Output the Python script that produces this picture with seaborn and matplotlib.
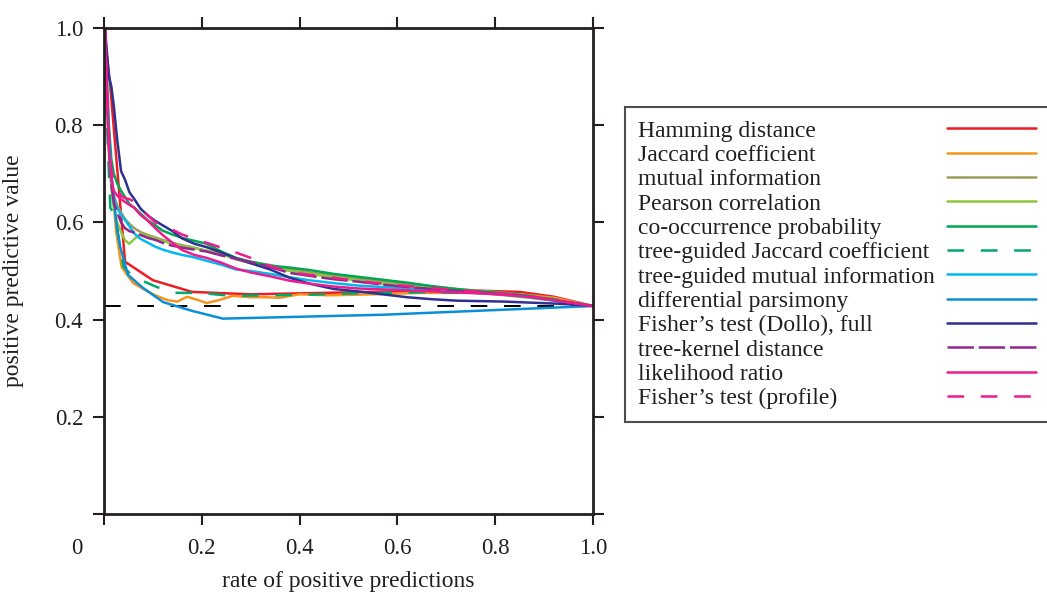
import matplotlib
matplotlib.use("Agg")
import matplotlib.pyplot as plt
import seaborn as sns

# shared x grid for the noisy curves (rate of positive predictions)
x_grid = [0.002, 0.006, 0.01, 0.015, 0.02, 0.027, 0.035, 0.043, 0.052, 0.062,
          0.075, 0.09, 0.105, 0.12, 0.14, 0.16, 0.185, 0.21, 0.24, 0.27,
          0.3, 0.34, 0.38, 0.42, 0.47, 0.52, 0.57, 0.62, 0.67, 0.72,
          0.77, 0.82, 0.87, 0.92, 0.96, 1.0]

mutual_info = [1.0, 0.87, 0.76, 0.69, 0.655, 0.635, 0.62, 0.607, 0.597, 0.588,
               0.580, 0.574, 0.569, 0.564, 0.558, 0.553, 0.548, 0.541, 0.534, 0.526,
               0.519, 0.512, 0.504, 0.497, 0.490, 0.484, 0.478, 0.473, 0.468, 0.463,
               0.459, 0.455, 0.449, 0.441, 0.434, 0.428]
pearson = [1.0, 0.86, 0.74, 0.67, 0.63, 0.60, 0.58, 0.563, 0.556, 0.566,
           0.576, 0.572, 0.566, 0.562, 0.556, 0.551, 0.547, 0.542, 0.535, 0.524,
           0.516, 0.508, 0.500, 0.494, 0.487, 0.480, 0.474, 0.469, 0.464, 0.459,
           0.455, 0.450, 0.445, 0.439, 0.433, 0.428]
cooccurrence = [1.0, 0.90, 0.80, 0.73, 0.70, 0.68, 0.665, 0.652, 0.638, 0.630,
                0.618, 0.604, 0.594, 0.583, 0.575, 0.568, 0.562, 0.556, 0.540, 0.527,
                0.519, 0.511, 0.507, 0.502, 0.494, 0.488, 0.482, 0.476, 0.469, 0.463,
                0.458, 0.454, 0.449, 0.440, 0.434, 0.428]
tree_mi = [1.0, 0.88, 0.77, 0.69, 0.65, 0.63, 0.615, 0.605, 0.592, 0.577,
           0.566, 0.558, 0.550, 0.544, 0.538, 0.533, 0.528, 0.521, 0.513, 0.503,
           0.500, 0.494, 0.487, 0.481, 0.475, 0.470, 0.467, 0.464, 0.461, 0.458,
           0.455, 0.451, 0.446, 0.439, 0.433, 0.428]
fisher_dollo = [1.0, 0.95, 0.90, 0.88, 0.84, 0.77, 0.705, 0.688, 0.662, 0.648,
                0.628, 0.614, 0.603, 0.594, 0.582, 0.567, 0.556, 0.549, 0.538, 0.526,
                0.516, 0.503, 0.486, 0.474, 0.463, 0.458, 0.452, 0.446, 0.442, 0.439,
                0.438, 0.437, 0.435, 0.433, 0.431, 0.428]
tree_kernel = [1.0, 0.87, 0.76, 0.68, 0.64, 0.62, 0.60, 0.588, 0.582, 0.579,
               0.574, 0.568, 0.564, 0.558, 0.552, 0.548, 0.544, 0.540, 0.532, 0.525,
               0.518, 0.508, 0.496, 0.490, 0.483, 0.478, 0.472, 0.467, 0.463, 0.459,
               0.456, 0.452, 0.447, 0.440, 0.434, 0.428]
likelihood = [1.0, 0.86, 0.75, 0.69, 0.665, 0.655, 0.648, 0.642, 0.636, 0.630,
              0.615, 0.603, 0.588, 0.574, 0.558, 0.543, 0.533, 0.527, 0.517, 0.505,
              0.497, 0.489, 0.480, 0.474, 0.468, 0.464, 0.462, 0.460, 0.458, 0.456,
              0.454, 0.451, 0.447, 0.440, 0.434, 0.428]
fisher_profile = [1.0, 0.88, 0.78, 0.71, 0.68, 0.665, 0.655, 0.650, 0.648, 0.642,
                  0.628, 0.614, 0.600, 0.592, 0.585, 0.575, 0.566, 0.558, 0.548, 0.538,
                  0.527, 0.510, 0.498, 0.492, 0.486, 0.479, 0.474, 0.469, 0.465, 0.461,
                  0.457, 0.453, 0.448, 0.440, 0.434, 0.428]

# coarse (step-like) curves with their own x values
hamming_x = [0.0, 0.005, 0.012, 0.043, 0.1, 0.18, 0.3, 0.45, 0.6, 0.75, 0.85, 0.92, 1.0]
hamming_y = [1.0, 0.95, 0.89, 0.519, 0.481, 0.457, 0.452, 0.455, 0.458, 0.460, 0.457, 0.447, 0.428]

jaccard_x = [0.0, 0.006, 0.015, 0.025, 0.036, 0.06, 0.084, 0.105, 0.13, 0.15, 0.17, 0.19,
             0.21, 0.235, 0.264, 0.3, 0.33, 0.36, 0.4, 0.46, 0.55, 0.65, 0.75, 0.85, 0.92, 1.0]
jaccard_y = [1.0, 0.85, 0.70, 0.58, 0.508, 0.475, 0.461, 0.45, 0.44, 0.437, 0.447, 0.441,
             0.434, 0.44, 0.449, 0.446, 0.446, 0.445, 0.452, 0.45, 0.452, 0.455, 0.455, 0.452, 0.445, 0.428]

tree_jaccard_x = [0.0, 0.004, 0.008, 0.013, 0.022, 0.04, 0.06, 0.108, 0.149, 0.196, 0.258,
                  0.35, 0.45, 0.55, 0.65, 0.75, 0.85, 0.92, 1.0]
tree_jaccard_y = [1.0, 0.88, 0.75, 0.63, 0.615, 0.508, 0.488, 0.467, 0.455, 0.455, 0.449,
                  0.45, 0.452, 0.455, 0.456, 0.455, 0.45, 0.442, 0.428]

parsimony_x = [0.0, 0.006, 0.015, 0.025, 0.033, 0.049, 0.08, 0.121, 0.18, 0.243, 0.57, 1.0]
parsimony_y = [1.0, 0.85, 0.70, 0.60, 0.55, 0.492, 0.465, 0.436, 0.418, 0.402, 0.41, 0.428]

baseline = 0.428

labels = ["Hamming distance", "Jaccard coefficient", "mutual information",
          "Pearson correlation", "co-occurrence probability",
          "tree-guided Jaccard coefficient", "tree-guided mutual information",
          "differential parsimony", "Fisher\u2019s test (Dollo), full",
          "tree-kernel distance", "likelihood ratio", "Fisher\u2019s test (profile)"]

ticks = [0, 0.2, 0.4, 0.6, 0.8, 1.0]
tick_labels = ["", "0.2", "0.4", "0.6", "0.8", "1.0"]

sns.set_style("ticks")
plt.rcParams["font.family"] = ["Liberation Serif", "DejaVu Serif"]
plt.rcParams["lines.scale_dashes"] = False

ink = "#231f20"
short_dash = (0, (12, 12))
long_dash = (0, (19, 3.5))

series = [
    (hamming_x, hamming_y, "#ed1c24", "-"),
    (jaccard_x, jaccard_y, "#f7941d", "-"),
    (x_grid, mutual_info, "#9d9d5b", "-"),
    (x_grid, pearson, "#8dc63f", "-"),
    (x_grid, cooccurrence, "#00a651", "-"),
    (tree_jaccard_x, tree_jaccard_y, "#00a86b", short_dash),
    (x_grid, tree_mi, "#00b9f1", "-"),
    (parsimony_x, parsimony_y, "#0a8fd6", "-"),
    (x_grid, fisher_dollo, "#2e3192", "-"),
    (x_grid, tree_kernel, "#92278f", long_dash),
    (x_grid, likelihood, "#ec1c8c", "-"),
    (x_grid, fisher_profile, "#ec1c8c", short_dash),
]

fig = plt.figure(figsize=(10.47, 5.99), dpi=100)
ax = fig.add_axes([104 / 1047, 1 - 514 / 599, 489 / 1047, 486 / 599])

ax.axhline(baseline, color="black", linewidth=1.4, linestyle=short_dash, zorder=1)

handles = []
for (xs, ys, color, ls), lab in zip(series, labels):
    sns.lineplot(x=xs, y=ys, ax=ax, color=color, linestyle=ls, linewidth=1.8,
                 sort=False, estimator=None, label=lab)
    handles.append(ax.lines[-1])

ax.set_xlim(0, 1)
ax.set_ylim(0, 1)
ax.set_xticks(ticks)
ax.set_xticklabels(tick_labels)
ax.set_yticks(ticks)
ax.set_yticklabels(tick_labels)
ax.tick_params(direction="out", top=True, right=True, labeltop=False, labelright=False,
               length=8, width=1.5, color=ink, labelsize=16.5, pad=7, labelcolor=ink)
ax.tick_params(axis="x", pad=9)
for sp in ax.spines.values():
    sp.set_linewidth(2)
    sp.set_color(ink)

ax.annotate("0", xy=(0, 0), xycoords="axes fraction", xytext=(-19.5, -25),
            textcoords="offset points", ha="center", va="center", fontsize=16.5, color=ink)

ax.set_xlabel("rate of positive predictions", fontsize=17, color=ink)
ax.set_ylabel("positive predictive value", fontsize=17, color=ink)
ax.xaxis.set_label_coords(0.5, -0.117)
ax.yaxis.set_label_coords(-0.164, 0.5)

leg = ax.legend(handles, labels, loc="upper left",
                bbox_to_anchor=(625 / 1047, 1 - 107 / 599), bbox_transform=fig.transFigure,
                markerfirst=False, frameon=True, fancybox=False, edgecolor=ink,
                fontsize=17, handlelength=3.8, handletextpad=0.5, labelspacing=0.12,
                borderpad=0.55, borderaxespad=0)
leg.get_frame().set_linewidth(1.5)
for t in leg.get_texts():
    t.set_color(ink)

# left-align the label text while the line samples stay in a right column
fig.canvas.draw()
renderer = fig.canvas.get_renderer()
widths = [t.get_window_extent(renderer).width for t in leg.get_texts()]
dpicor = renderer.points_to_pixels(1.0)
rows = leg._legend_handle_box.get_children()[0].get_children()
for row, w in zip(rows, widths):
    row.sep = leg.handletextpad * 17 + (max(widths) - w) / dpicor

fig.savefig("out.png", dpi=100)
